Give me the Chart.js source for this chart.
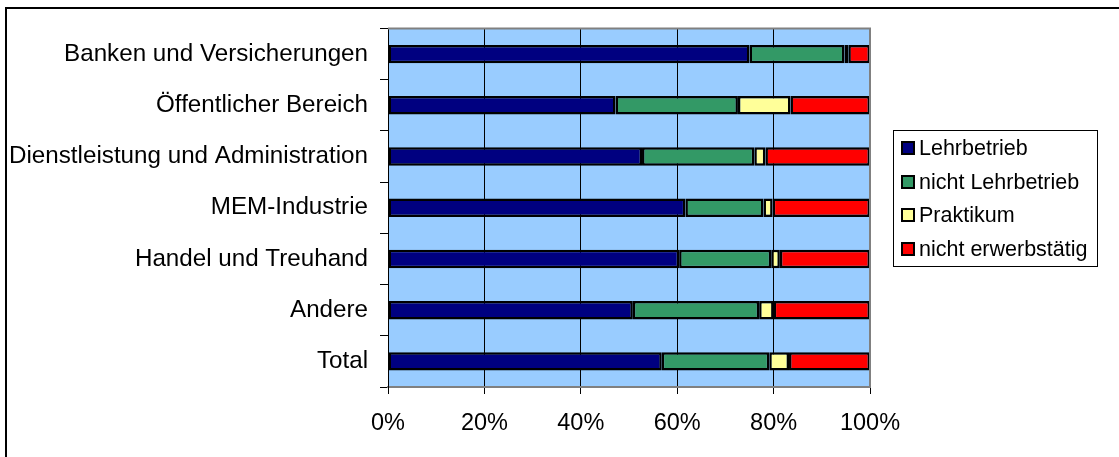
<!DOCTYPE html>
<html>
<head>
<meta charset="utf-8">
<script src="https://cdn.jsdelivr.net/npm/chart.js@4/dist/chart.umd.min.js"></script>
<style>
  html, body { margin: 0; padding: 0; background: #fff; }
  #wrap { width: 1119px; height: 457px; }
</style>
</head>
<body>
<div id="wrap"><canvas id="barChart"></canvas></div>
<script>
// categories top to bottom
var branchen = ["Banken und Versicherungen", "Öffentlicher Bereich", "Dienstleistung und Administration",
                "MEM-Industrie", "Handel und Treuhand", "Andere", "Total"];
var seriesNames = ["Lehrbetrieb", "nicht Lehrbetrieb", "Praktikum", "nicht erwerbstätig"];
// percent values
var lehrbetrieb      = [75.0, 47.2, 52.7, 61.7, 60.4, 50.8, 56.8];
var nichtLehrbetrieb = [19.7, 25.4, 23.3, 16.2, 19.1, 26.2, 22.3];
var praktikum        = [0.8, 10.9, 2.3, 1.9, 1.8, 3.0, 4.1];
var nichtErwerb      = [4.5, 16.5, 21.7, 20.2, 18.7, 20.0, 16.8];
var xTicks = [0, 20, 40, 60, 80, 100];

var colors = ["#000080", "#339966", "#FFFF99", "#FF0000"];
var font = "'Liberation Sans', Arial, sans-serif";

// light blue plot area, grey right edge, outer frame, legend
var plotBg = {
  id: 'plotBg',
  beforeDraw: function(chart) {
    var c = chart.ctx, a = chart.chartArea;
    c.save();
    c.fillStyle = "#99CCFF";
    c.fillRect(a.left, a.top, a.right - a.left, a.bottom - a.top);
    c.restore();
  },
  afterDraw: function(chart) {
    var c = chart.ctx, a = chart.chartArea;
    c.save();
    c.strokeStyle = "#808080";
    c.lineWidth = 2;
    c.beginPath();
    c.moveTo(a.left, a.top);
    c.lineTo(a.right, a.top);
    c.lineTo(a.right, a.bottom);
    c.stroke();
    // outer frame (top + left)
    c.strokeStyle = "#000";
    c.lineWidth = 2;
    c.beginPath();
    c.moveTo(6, 457);
    c.lineTo(6, 8);
    c.lineTo(1119, 8);
    c.stroke();
    // legend box
    c.lineWidth = 1;
    c.strokeStyle = "#000";
    c.strokeRect(893.5, 130.5, 204, 136);
    c.font = "21.5px " + font;
    c.textBaseline = "middle";
    c.textAlign = "left";
    var ys = [148, 182, 215, 249];
    chart.data.datasets.forEach(function(ds, i) {
      c.fillStyle = ds.backgroundColor;
      c.fillRect(902, ys[i] - 6, 12, 12);
      c.lineWidth = 2;
      c.strokeRect(902, ys[i] - 6, 12, 12);
      c.fillStyle = "#000";
      c.fillText(ds.label, 919, ys[i] + 1);
    });
    c.restore();
  }
};

var allValues = [lehrbetrieb, nichtLehrbetrieb, praktikum, nichtErwerb];
var datasets = seriesNames.map(function(name, i) {
  return {
    label: name,
    data: allValues[i],
    backgroundColor: colors[i],
    borderColor: "#000",
    borderWidth: 2.5,
    borderSkipped: false,
    categoryPercentage: 1,
    barPercentage: 0.36
  };
});

new Chart(document.getElementById("barChart"), {
  type: 'bar',
  data: { labels: branchen, datasets: datasets },
  options: {
    indexAxis: 'y',
    responsive: true,
    maintainAspectRatio: false,
    animation: false,
    layout: { padding: { left: 0, right: 249, top: 28.5, bottom: 0 } },
    plugins: { legend: { display: false }, tooltip: { enabled: false } },
    scales: {
      x: {
        stacked: true,
        min: 0, max: 100,
        afterBuildTicks: function(scale) {
          scale.ticks = xTicks.map(function(v) { return { value: v }; });
        },
        afterFit: function(scale) { scale.height = 70; },
        ticks: {
          color: "#000",
          font: { family: font, size: 23.5 },
          padding: 15,
          maxRotation: 0,
          callback: function(v) { return v + "%"; }
        },
        grid: { color: "#000", lineWidth: 1, tickLength: 7 },
        border: { color: "#808080", width: 2 }
      },
      y: {
        stacked: true,
        afterFit: function(scale) { scale.width = 388; },
        ticks: {
          color: "#000",
          font: { family: font, size: 24.2 },
          padding: 12
        },
        grid: { drawOnChartArea: false, color: "#000", tickLength: 8, offset: true },
        border: { color: "#000", width: 1 }
      }
    }
  },
  plugins: [plotBg]
});
</script>
</body>
</html>
